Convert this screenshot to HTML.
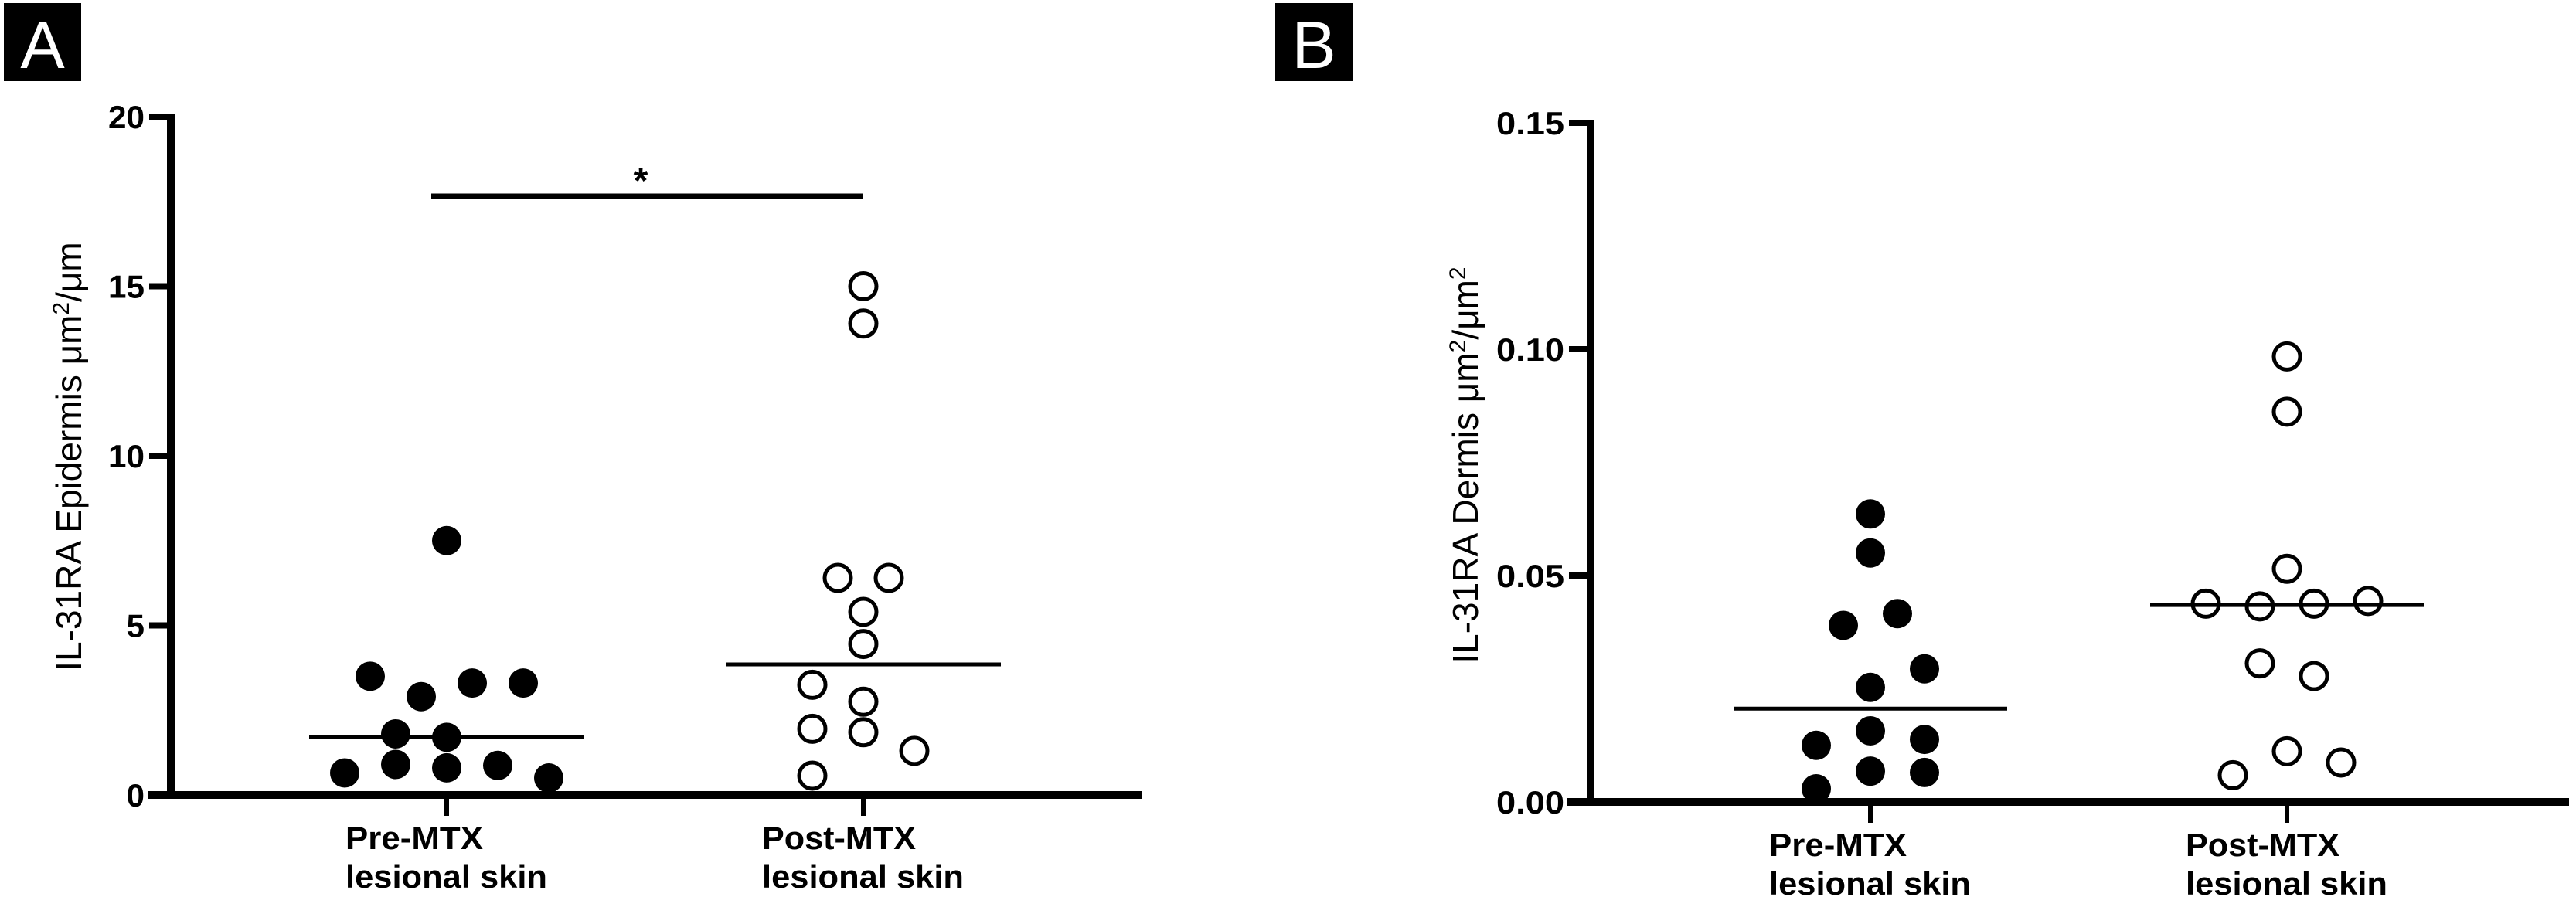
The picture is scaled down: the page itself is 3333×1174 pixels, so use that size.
<!DOCTYPE html>
<html><head><meta charset="utf-8"><style>
html,body{margin:0;padding:0;background:#fff}
svg{display:block}
text{font-family:"Liberation Sans",sans-serif}
.tk{font-weight:bold;font-size:42px}
</style></head><body>
<svg id="fig" width="3333" height="1174" viewBox="0 0 3333 1174">
<rect x="5" y="4" width="100" height="101" fill="#000"/>
<text x="55" y="88" text-anchor="middle" font-size="86" fill="#fff">A</text>
<rect x="1650" y="4" width="100" height="101" fill="#000"/>
<text x="1700" y="88" text-anchor="middle" font-size="86" fill="#fff">B</text>
<g id="pa"></g>
<g id="pb"></g>
</svg>
<script>
// Panel A data
const catsA = ["Pre-MTX", "Post-MTX"];
const preA = [7.5, 3.5, 3.3, 3.3, 2.9, 1.8, 1.7, 0.65, 0.9, 0.8, 0.87, 0.5];
const preAJit = [0, -3, 1, 3, -1, -2, 0, -4, -2, 0, 2, 4];
const postA = [15.0, 13.9, 6.4, 6.4, 5.4, 4.45, 3.25, 2.75, 1.95, 1.85, 1.3, 0.57];
const postAJit = [0, 0, -1, 1, 0, 0, -2, 0, -2, 0, 2, -2];
const medA = [1.7, 3.85];
const ticksA = [0, 5, 10, 15, 20];
const tickLabA = ["0", "5", "10", "15", "20"];
// Panel B data
const catsB = ["Pre-MTX", "Post-MTX"];
const preB = [0.0636, 0.055, 0.039, 0.0416, 0.0294, 0.0253, 0.0157, 0.0125, 0.0138, 0.0068, 0.0065, 0.0029];
const preBJit = [0, 0, -1, 1, 2, 0, 0, -2, 2, 0, 2, -2];
const postB = [0.0984, 0.0862, 0.0515, 0.0438, 0.0432, 0.0438, 0.0444, 0.0306, 0.0278, 0.0112, 0.0087, 0.0059];
const postBJit = [0, 0, 0, -3, -1, 1, 3, -1, 1, 0, 2, -2];
const medB = [0.0206, 0.0435];
const ticksB = [0, 0.05, 0.10, 0.15];
const tickLabB = ["0.00", "0.05", "0.10", "0.15"];

const NS = "http://www.w3.org/2000/svg";
function mk(parent, tag, attrs){ const e=document.createElementNS(NS,tag); for(const k in attrs) e.setAttribute(k, attrs[k]); parent.appendChild(e); return e; }

function panel(g, cfg){
  const y = v => cfg.y0 - (v - 0) / cfg.ymax * (cfg.y0 - cfg.ytop);
  const x = (i, j) => cfg.cx[i] + j * cfg.jit;
  // axes
  let e = mk(g,'line',{x1:cfg.ax, y1:cfg.ytop-4, x2:cfg.ax, y2:cfg.y0+5, stroke:'#000','stroke-width':10});
   
  e = mk(g,'line',{x1:cfg.ax-30, y1:cfg.y0, x2:cfg.xend, y2:cfg.y0, stroke:'#000','stroke-width':10});
   
  cfg.ticks.forEach((t,k)=>{
    const l = mk(g,'line',{x1:cfg.ax-28, y1:y(t), x2:cfg.ax, y2:y(t), stroke:'#000','stroke-width':8});
     
    const tx = mk(g,'text',{x:cfg.ax-34, y:y(t)+15, 'text-anchor':'end', class:'tk', textLength:cfg.labW*cfg.labs[k].length, lengthAdjust:'spacingAndGlyphs'});
    tx.textContent = cfg.labs[k];
     
  });
  cfg.cats.forEach((c,i)=>{
    const l = mk(g,'line',{x1:cfg.cx[i], y1:cfg.y0, x2:cfg.cx[i], y2:cfg.y0+27, stroke:'#000','stroke-width':6});
     
    const lx = cfg.cx[i] - 131;
    let t = mk(g,'text',{x:lx, y:cfg.y0+70, class:'tk', textLength: i==0?178:199, lengthAdjust:'spacingAndGlyphs'});
    t.textContent = c;
     
    t = mk(g,'text',{x:lx, y:cfg.y0+120, class:'tk', textLength:261, lengthAdjust:'spacingAndGlyphs'});
    t.textContent = 'lesional skin';
     
  });
  // points
  [[cfg.pre, cfg.preJ, 0, true],[cfg.post, cfg.postJ, 1, false]].forEach(([vals, jit, i, filled])=>{
    vals.forEach((v,k)=>{
      const c = mk(g,'circle',{cx:x(i,jit[k]), cy:y(v), r: filled?19:17, fill: filled?'#000':'#fff', stroke:'#000','stroke-width': filled?0:5});
       
    });
  });
  cfg.med.forEach((m,i)=>{
    const l = mk(g,'line',{x1:cfg.cx[i]-cfg.mw, y1:y(m), x2:cfg.cx[i]+cfg.mw, y2:y(m), stroke:'#000','stroke-width':5});
     
  });
  const tt = mk(g,'text',{x:0,y:0,'font-size':46,'text-anchor':'middle',transform:`translate(${cfg.tx},${cfg.ty}) rotate(-90)`});
  tt.innerHTML = cfg.title;
   
  return y;
}

const yA = panel(document.getElementById('pa'), {ax:221, ytop:151, y0:1029, ymax:20, xend:1478, cx:[578,1117], jit:33,
  ticks:ticksA, labs:tickLabA, labW:23.5, cats:catsA, pre:preA, preJ:preAJit, post:postA, postJ:postAJit, med:medA, mw:178,
  tx:105, ty:591, title:'IL-31RA Epidermis μm<tspan dy="-16" font-size="30">2</tspan><tspan dy="16">/μm</tspan>'});
const yB = panel(document.getElementById('pb'), {ax:2058, ytop:159, y0:1038, ymax:0.15, xend:3324, cx:[2420,2959], jit:35,
  ticks:ticksB, labs:tickLabB, labW:22, cats:catsB, pre:preB, preJ:preBJit, post:postB, postJ:postBJit, med:medB, mw:177,
  tx:1912, ty:602, title:'IL-31RA Dermis μm<tspan dy="-16" font-size="30">2</tspan><tspan dy="16">/μm</tspan><tspan dy="-16" font-size="30">2</tspan>'});

// significance bar panel A
const pa = document.getElementById('pa');
let sb = mk(pa,'line',{x1:558, y1:254, x2:1117, y2:254, stroke:'#000','stroke-width':7});
 
let st = mk(pa,'text',{x:829, y:250, 'text-anchor':'middle', 'font-size':48, 'font-weight':'bold'});
st.textContent='*';
 
</script>
</body></html>
